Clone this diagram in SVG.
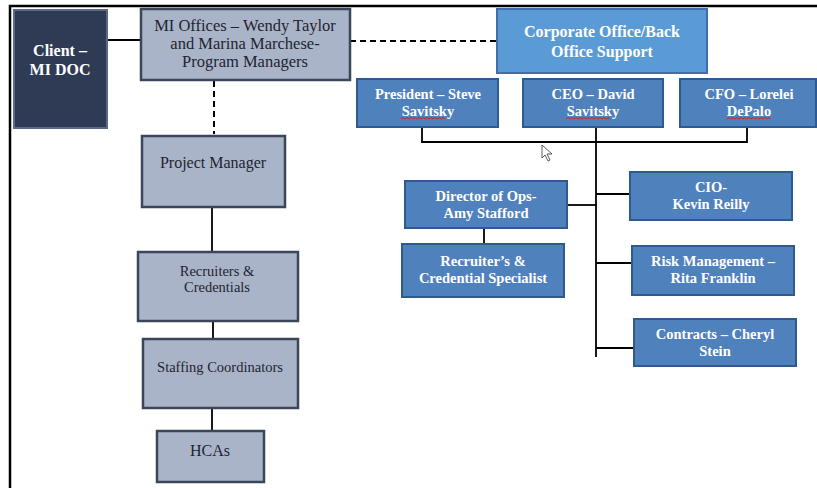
<svg xmlns="http://www.w3.org/2000/svg" width="817" height="488" viewBox="0 0 817 488">
<style>
.frame{stroke:#000;stroke-width:2.5;fill:none}
.grey{fill:#aab4c8;stroke:#3b4658;stroke-width:2.5}
.navy{fill:#2f3b55;stroke:#5a6a88;stroke-width:2}
.corp{fill:#5b9bd5;stroke:#3e6fa8;stroke-width:2}
.blue{fill:#4f81bd;stroke:#2f5a8f;stroke-width:2}
.ln{stroke:#000;stroke-width:1.8;fill:none}
.dash{stroke:#000;stroke-width:2;fill:none;stroke-dasharray:6,4}
.wt{font-family:"Liberation Serif",serif;font-weight:bold;fill:#fff;text-anchor:middle;font-size:14.5px}
.dt{font-family:"Liberation Serif",serif;fill:#1e2430;text-anchor:middle;font-size:14.5px}
.sq{stroke:#d02020;stroke-width:1;fill:none}
</style>
<rect width="817" height="488" fill="#fff"/>
<path class="frame" d="M10,488 V6 H817"/>
<g id="connectors">
<line class="ln" x1="107" y1="40" x2="141" y2="40"/>
<line class="dash" x1="350" y1="41" x2="497" y2="41"/>
<line class="dash" x1="214" y1="81" x2="214" y2="134"/>
<line class="ln" x1="212" y1="207" x2="212" y2="251"/>
<line class="ln" x1="213" y1="321" x2="213" y2="339"/>
<line class="ln" x1="212" y1="408" x2="212" y2="430"/>
<path class="ln" d="M422,127 V142 H747 V127"/>
<line class="ln" x1="596" y1="127" x2="596" y2="357"/>
<line class="ln" x1="567" y1="205" x2="597" y2="205"/>
<line class="ln" x1="484" y1="228" x2="484" y2="244"/>
<line class="ln" x1="596" y1="194" x2="630" y2="194"/>
<line class="ln" x1="596" y1="263" x2="632" y2="263"/>
<line class="ln" x1="596" y1="348" x2="634" y2="348"/>
</g>
<g id="client"><rect class="navy" x="14" y="10" width="93" height="118"/>
<text class="wt" style="font-size:16px"><tspan x="60" y="56">Client –</tspan><tspan x="60" y="75">MI DOC</tspan></text></g>
<g id="mi-offices"><rect class="grey" x="141" y="9" width="209" height="71"/>
<text class="dt" style="font-size:16.5px"><tspan x="245" y="31">MI Offices – Wendy Taylor</tspan><tspan x="245" y="49">and Marina Marchese-</tspan><tspan x="245" y="67">Program Managers</tspan></text></g>
<g id="corporate"><rect class="corp" x="497" y="9" width="210" height="64"/>
<text class="wt" style="font-size:16px"><tspan x="602" y="37">Corporate Office/Back</tspan><tspan x="602" y="57">Office Support</tspan></text></g>
<g id="president"><rect class="blue" x="357" y="79" width="141" height="48"/>
<text class="wt"><tspan x="428" y="99">President – Steve</tspan><tspan x="428" y="116">Savitsky</tspan></text>
<path class="sq" d="M401,119 l2,-1.5 l2,1.5 l2,-1.5 l2,1.5 l2,-1.5 l2,1.5 l2,-1.5 l2,1.5 l2,-1.5 l2,1.5 l2,-1.5 l2,1.5 l2,-1.5 l2,1.5 l2,-1.5 l2,1.5 l2,-1.5 l2,1.5 l2,-1.5 l2,1.5 l2,-1.5 l2,1.5"/></g>
<g id="ceo"><rect class="blue" x="523" y="79" width="140" height="48"/>
<text class="wt"><tspan x="593" y="99">CEO – David</tspan><tspan x="593" y="116">Savitsky</tspan></text>
<path class="sq" d="M566,119 l2,-1.5 l2,1.5 l2,-1.5 l2,1.5 l2,-1.5 l2,1.5 l2,-1.5 l2,1.5 l2,-1.5 l2,1.5 l2,-1.5 l2,1.5 l2,-1.5 l2,1.5 l2,-1.5 l2,1.5 l2,-1.5 l2,1.5 l2,-1.5 l2,1.5 l2,-1.5 l2,1.5"/></g>
<g id="cfo"><rect class="blue" x="680" y="79" width="136" height="48"/>
<text class="wt"><tspan x="749" y="99">CFO – Lorelei</tspan><tspan x="749" y="116">DePalo</tspan></text>
<path class="sq" d="M727,119 l2,-1.5 l2,1.5 l2,-1.5 l2,1.5 l2,-1.5 l2,1.5 l2,-1.5 l2,1.5 l2,-1.5 l2,1.5 l2,-1.5 l2,1.5 l2,-1.5 l2,1.5 l2,-1.5 l2,1.5 l2,-1.5 l2,1.5 l2,-1.5 l2,1.5 l2,-1.5 l2,1.5"/></g>
<g id="project-manager"><rect class="grey" x="142" y="136" width="143" height="71"/>
<text class="dt" style="font-size:16px" x="213" y="168">Project Manager</text></g>
<g id="recruiters"><rect class="grey" x="138" y="252" width="160" height="69"/>
<text class="dt"><tspan x="217" y="276">Recruiters &amp;</tspan><tspan x="217" y="292">Credentials</tspan></text></g>
<g id="staffing"><rect class="grey" x="143" y="339" width="155" height="69"/>
<text class="dt" x="220" y="372">Staffing Coordinators</text></g>
<g id="hcas"><rect class="grey" x="157" y="431" width="107" height="51"/>
<text class="dt" style="font-size:16px" x="210" y="456">HCAs</text></g>
<g id="director"><rect class="blue" x="405" y="181" width="162" height="47"/>
<text class="wt"><tspan x="486" y="201">Director of Ops-</tspan><tspan x="486" y="218">Amy Stafford</tspan></text></g>
<g id="recruiter-specialist"><rect class="blue" x="402" y="244" width="162" height="53"/>
<text class="wt"><tspan x="483" y="266">Recruiter’s &amp;</tspan><tspan x="483" y="283">Credential Specialist</tspan></text></g>
<g id="cio"><rect class="blue" x="630" y="172" width="162" height="48"/>
<text class="wt"><tspan x="711" y="192">CIO-</tspan><tspan x="711" y="209">Kevin Reilly</tspan></text></g>
<g id="risk"><rect class="blue" x="632" y="246" width="162" height="49"/>
<text class="wt"><tspan x="713" y="266">Risk Management –</tspan><tspan x="713" y="283">Rita Franklin</tspan></text></g>
<g id="contracts"><rect class="blue" x="634" y="319" width="162" height="47"/>
<text class="wt"><tspan x="715" y="339">Contracts – Cheryl</tspan><tspan x="715" y="356">Stein</tspan></text></g>
<path d="M542,145 V158 L545,155 L548,161 L550,160 L547,154 L552,154 Z" fill="#fff" stroke="#333" stroke-width="0.8"/>
</svg>
